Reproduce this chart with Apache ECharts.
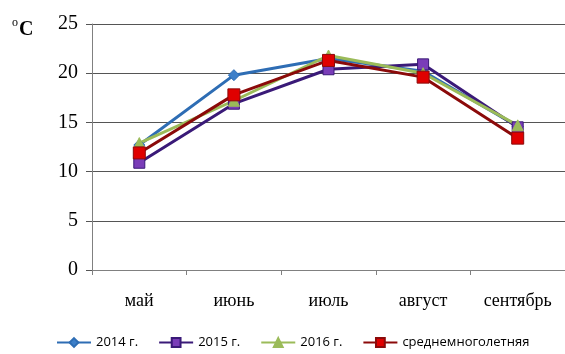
<!DOCTYPE html>
<html><head><meta charset="utf-8">
<script src="https://cdn.jsdelivr.net/npm/echarts@6/dist/echarts.min.js"></script>
<style>html,body{margin:0;padding:0;background:#fff}#c{width:565px;height:354px}</style>
</head><body><div id="c"></div>
<script>
const categories = ['май', 'июнь', 'июль', 'август', 'сентябрь'];
const s2014 = [12.7, 19.8, 21.5, 20.2, 14.6];
const s2015 = [10.9, 16.9, 20.4, 20.9, 14.5];
const s2016 = [12.9, 17.2, 21.8, 20.0, 14.7];
const sAvg  = [11.9, 17.8, 21.3, 19.6, 13.4];
const yTicks = [0, 5, 10, 15, 20, 25];
const names = ['2014 г.', '2015 г.', '2016 г.', 'среднемноголетняя'];

const chart = echarts.init(document.getElementById('c'));
function ser(name, data, lineColor, markColor, symbol, size) {
  return {
    name, type: 'line', data, symbol, symbolSize: size,
    lineStyle: { color: lineColor, width: 3 },
    itemStyle: { color: markColor, borderColor: lineColor, borderWidth: 1 },
    emphasis: { disabled: true }
  };
}
chart.setOption({
  animation: false,
  grid: { left: 92, top: 24, width: 475, height: 246 },
  graphic: [{
    type: 'text', left: 12, top: 17,
    style: { text: 'o', font: '12px "Liberation Serif"', fill: '#000' }
  }, {
    type: 'text', left: 19, top: 20,
    style: { text: 'C', font: 'bold 20px "Liberation Serif"', fill: '#000' }
  }],
  legend: {
    bottom: 0, left: 51, itemGap: 20, itemWidth: 34, itemHeight: 11,
    textStyle: { fontFamily: 'Open Sans, Liberation Sans', fontSize: 13, color: '#000' },
    data: names
  },
  xAxis: {
    type: 'category', data: categories, boundaryGap: true,
    axisLine: { lineStyle: { color: '#808080', width: 1 } },
    axisTick: { show: true, length: 5, lineStyle: { color: '#808080' } },
    axisLabel: { fontFamily: 'Liberation Serif', fontSize: 18, color: '#000', margin: 22 }
  },
  yAxis: {
    type: 'value', min: 0, max: 25, interval: 5,
    axisLine: { show: true, lineStyle: { color: '#808080' } },
    axisTick: { show: true, length: 6, lineStyle: { color: '#555' } },
    axisLabel: { fontFamily: 'Liberation Serif', fontSize: 20, color: '#000', margin: 14 },
    splitLine: { lineStyle: { color: '#555', width: 1 } }
  },
  series: [
    ser(names[0], s2014, '#2E6DB4', '#3D7FC9', 'diamond', 11),
    ser(names[1], s2015, '#3A1A78', '#7A3DB8', 'rect', 11),
    ser(names[2], s2016, '#9BBB59', '#9BBB59', 'triangle', 11),
    ser(names[3], sAvg, '#8B0A0A', '#E00000', 'rect', 12)
  ]
});
</script></body></html>
